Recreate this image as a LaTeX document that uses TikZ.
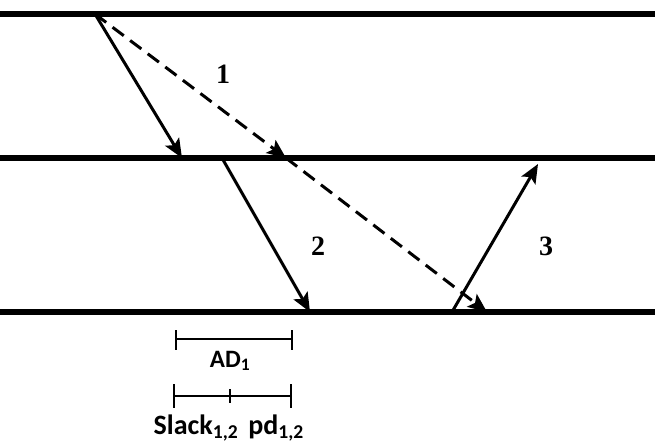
\documentclass[tikz,border=0pt]{standalone}
\usepackage{fontspec}
\setmainfont{Liberation Serif}
\newfontfamily\calib{Carlito}
\usetikzlibrary{arrows.meta}
\begin{document}
\begin{tikzpicture}[x=1pt,y=-1pt,
  lane/.style={line width=6pt},
  msg/.style={line width=3pt,-{Stealth[length=19pt,width=16pt,inset=4pt]}},
  dmsg/.style={msg,dash pattern=on 14pt off 8pt},
  num/.style={font=\fontsize{28}{28}\selectfont\bfseries},
  lab/.style={font=\calib\fontsize{25}{25}\selectfont\bfseries},
  biglab/.style={font=\calib\fontsize{28}{28}\selectfont\bfseries},
  bar/.style={line width=2.4pt}]
\useasboundingbox (0,0) rectangle (655,444);
% lanes
\coordinate (L1a) at (0,14); \coordinate (L1b) at (655,14);
\coordinate (L2a) at (0,158); \coordinate (L2b) at (655,158);
\coordinate (L3a) at (0,312); \coordinate (L3b) at (655,312);
\draw[lane] (L1a) -- (L1b);
\draw[lane] (L2a) -- (L2b);
\draw[lane] (L3a) -- (L3b);
% message points
\coordinate (s1) at (95,14);
\coordinate (e1) at (182,158);
\coordinate (d1) at (286,158);
\coordinate (d2) at (487,312);
\coordinate (s2) at (222,158);
\coordinate (e2) at (310,312);
\coordinate (s3) at (452,312);
\coordinate (e3) at (538,164);
\draw[msg] (s1) -- (e1);
\draw[dmsg] (s1) -- (d1);
\draw[dmsg] (d1) -- (d2);
\draw[msg] (s2) -- (e2);
\draw[msg] (s3) -- (e3);
\node[num] (n1) at (223,74) {1};
\node[num] (n2) at (318,246) {2};
\node[num] (n3) at (546,246) {3};
% brackets
\coordinate (a1) at (176,339); \coordinate (a2) at (292,339);
\draw[bar] (a1) -- (a2);
\draw[bar] (176,330) -- (176,350);
\draw[bar] (292,330) -- (292,350);
\node[lab] (ad) at (230,361) {AD\textsubscript{1}};
\coordinate (b1) at (174,396); \coordinate (b2) at (291,396);
\draw[bar] (b1) -- (b2);
\draw[bar] (174,384) -- (174,408);
\draw[bar] (230,389) -- (230,403);
\draw[bar] (291,384) -- (291,408);
\node[biglab] (sl) at (196,428) {Slack\textsubscript{1,2}};
\node[biglab] (pd) at (276,428) {pd\textsubscript{1,2}};
\end{tikzpicture}
\end{document}
